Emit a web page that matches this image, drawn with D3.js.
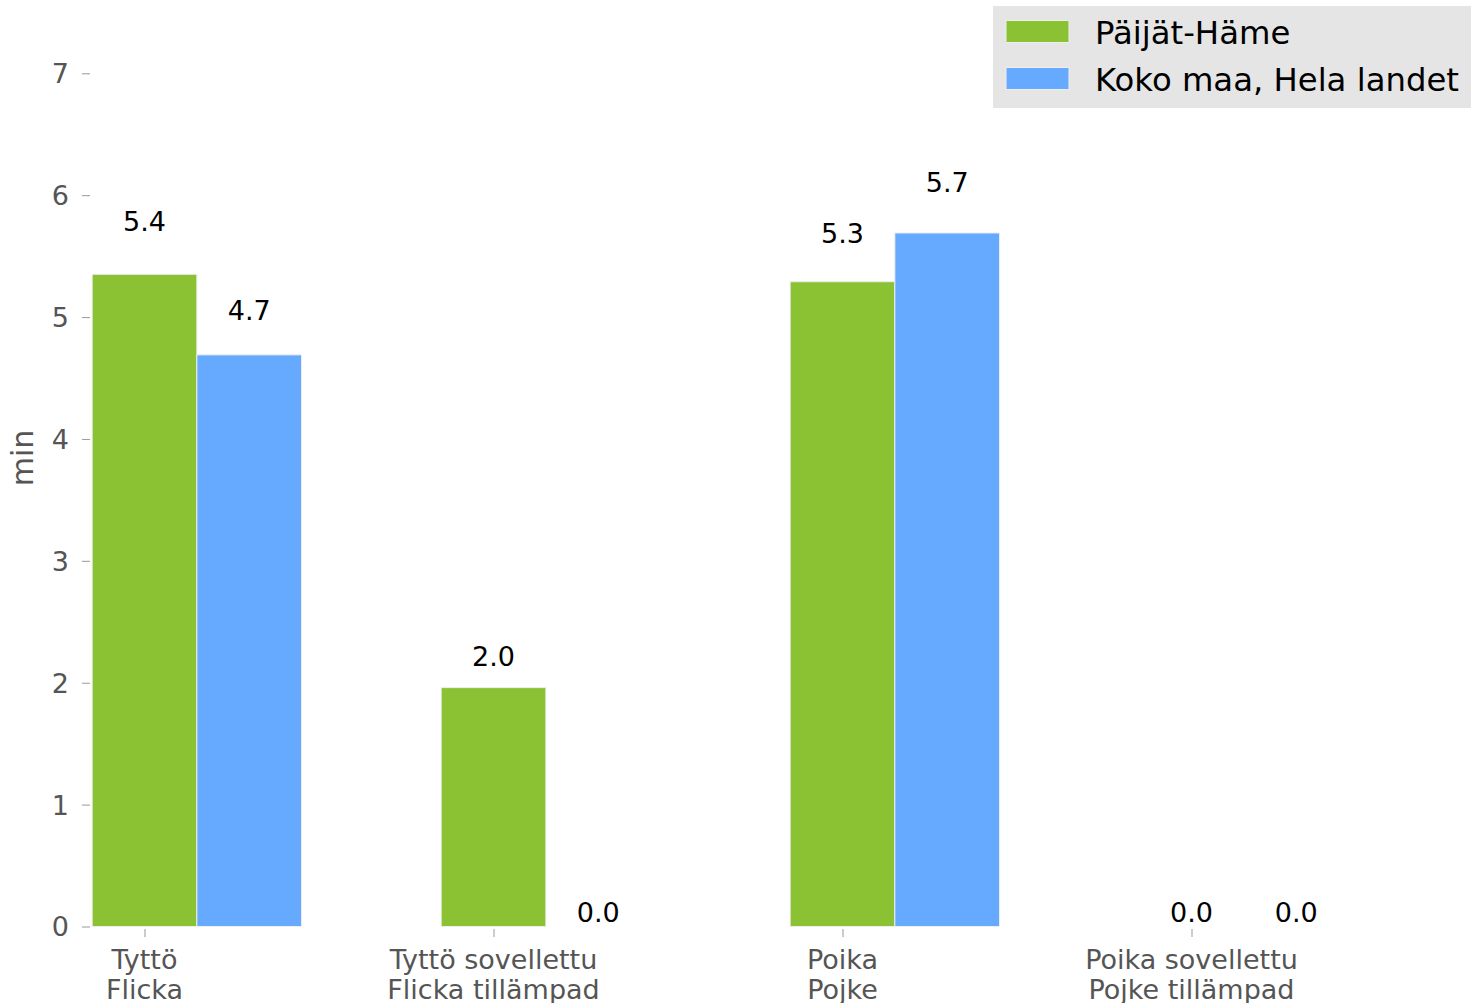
<!DOCTYPE html>
<html lang="en">
	<head>
		<meta charset="utf-8">
		<title>min</title>
		<script type="text/javascript" src="https://cdn.jsdelivr.net/npm/d3@7"></script>
		<style type="text/css">
			body { margin: 0; background: #fff; }
			text { font-family: "DejaVu Sans", sans-serif; }
		</style>
	</head>
	<body>
		<script type="text/javascript">

			// Data
			var categories = [["Tyttö", "Flicka"], ["Tyttö sovellettu", "Flicka tillämpad"], ["Poika", "Pojke"], ["Poika sovellettu", "Pojke tillämpad"]];
			var seriesNames = ["Päijät-Häme", "Koko maa, Hela landet"];
			var regionValues = [5.351, 1.96, 5.29, 0];
			var countryValues = [4.69, 0, 5.69, 0];
			var yTicks = [0, 1, 2, 3, 4, 5, 6, 7];
			var colors = ["#8bc234", "#66aaff"];

			//Width and height
			var w = 1481;
			var h = 1003;
			var barWidth = 0.3;

			var x = d3.scaleLinear().domain([0, 3]).range([144.5, 1191.5]);
			var y = d3.scaleLinear().domain([0, 7]).range([926.5, 73.3]);
			var fmt = d3.format(".1f");

			var svg = d3.select("body")
						.append("svg")
						.attr("width", w)
						.attr("height", h);

			// y axis
			var yAxis = d3.axisLeft(y)
						.tickValues(yTicks)
						.tickFormat(d3.format("d"))
						.tickSizeInner(8)
						.tickSizeOuter(0)
						.tickPadding(13);

			var gy = svg.append("g")
						.attr("transform", "translate(90,0)")
						.call(yAxis);
			gy.select(".domain").remove();
			gy.selectAll(".tick line").attr("stroke", "#999");
			gy.selectAll(".tick text")
			  .attr("fill", "#555")
			  .style("font-size", "27px")
			  .attr("dy", "0.35em");

			// x axis
			var xAxis = d3.axisBottom(x)
						.tickValues(d3.range(categories.length))
						.tickFormat("")
						.tickSizeInner(8)
						.tickSizeOuter(0);

			var gx = svg.append("g")
						.attr("transform", "translate(0,929)")
						.call(xAxis);
			gx.select(".domain").remove();
			gx.selectAll(".tick line").attr("stroke", "#999");

			var xl = svg.selectAll("text.xlabel")
						.data(categories)
						.enter()
						.append("text")
						.attr("class", "xlabel")
						.attr("text-anchor", "middle")
						.attr("fill", "#555")
						.style("font-size", "27px")
						.attr("x", function(d, i) { return x(i); })
						.attr("y", 969);
			xl.selectAll("tspan")
			  .data(function(d) { return d; })
			  .enter()
			  .append("tspan")
			  .attr("x", function() { return d3.select(this.parentNode).attr("x"); })
			  .attr("dy", function(d, i) { return i === 0 ? 0 : 29.5; })
			  .text(function(d) { return d; });

			// y label
			svg.append("text")
			   .attr("transform", "translate(33,458) rotate(-90)")
			   .attr("text-anchor", "middle")
			   .attr("fill", "#555")
			   .style("font-size", "30px")
			   .text("min");

			// bars
			var series = [regionValues, countryValues];
			series.forEach(function(vals, s) {
				var g = svg.append("g");
				g.selectAll("rect")
				 .data(vals)
				 .enter()
				 .append("rect")
				 .attr("x", function(d, i) { return x(i + s * barWidth - barWidth / 2); })
				 .attr("width", function(d, i) { return x(barWidth) - x(0); })
				 .attr("y", function(d) { return y(d); })
				 .attr("height", function(d) { return y(0) - y(d); })
				 .attr("fill", colors[s])
				 .attr("stroke", function(d) { return d > 0 ? "#eeeeee" : "none"; })
				 .attr("stroke-width", 1);

				g.selectAll("text")
				 .data(vals)
				 .enter()
				 .append("text")
				 .attr("text-anchor", "middle")
				 .attr("fill", "#000")
				 .style("font-size", "27px")
				 .attr("x", function(d, i) { return x(i + s * barWidth); })
				 .attr("y", function(d) { return y(+fmt(d) * 1.05 + 0.04); })
				 .text(function(d) { return fmt(d); });
			});

			// legend
			var legend = svg.append("g");
			legend.append("rect")
				  .attr("x", 993)
				  .attr("y", 6)
				  .attr("width", 478)
				  .attr("height", 102)
				  .attr("fill", "#e5e5e5");

			var items = legend.selectAll("g.item")
							  .data(seriesNames)
							  .enter()
							  .append("g")
							  .attr("class", "item")
							  .attr("transform", function(d, i) { return "translate(0," + (i * 47) + ")"; });
			items.append("rect")
				 .attr("x", 1006)
				 .attr("y", 20.5)
				 .attr("width", 63)
				 .attr("height", 22)
				 .attr("fill", function(d, i) { return colors[i]; })
				 .attr("stroke", "#eeeeee")
				 .attr("stroke-width", 1);
			items.append("text")
				 .attr("x", 1095)
				 .attr("y", 43.5)
				 .attr("fill", "#000")
				 .style("font-size", "32.3px")
				 .text(function(d) { return d; });

		</script>
	</body>
</html>
